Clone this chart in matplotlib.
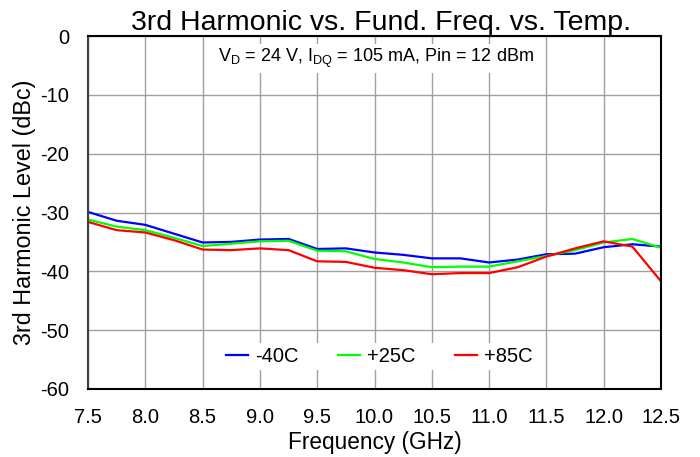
import numpy as np
import matplotlib.pyplot as plt

plt.rcParams['font.family'] = ['Liberation Sans', 'DejaVu Sans']
plt.rcParams['axes.unicode_minus'] = False

# Frequency points (GHz)
freq = [7.5, 7.75, 8.0, 8.25, 8.5, 8.75, 9.0, 9.25, 9.5, 9.75, 10.0,
        10.25, 10.5, 10.75, 11.0, 11.25, 11.5, 11.75, 12.0, 12.25, 12.5]

# 3rd harmonic level (dBc) per temperature
h3_m40 = [-29.9, -31.4, -32.1, -33.6, -35.1, -35.0, -34.6, -34.5, -36.2, -36.1, -36.8,
          -37.2, -37.8, -37.8, -38.5, -38.0, -37.1, -37.0, -35.9, -35.4, -35.8]
h3_p25 = [-31.2, -32.4, -33.0, -34.3, -35.7, -35.3, -34.9, -34.8, -36.5, -36.6, -37.9,
          -38.5, -39.3, -39.2, -39.2, -38.3, -37.4, -36.4, -35.1, -34.5, -36.0]
h3_p85 = [-31.6, -33.0, -33.4, -34.7, -36.3, -36.4, -36.1, -36.4, -38.3, -38.4, -39.4,
          -39.8, -40.5, -40.3, -40.3, -39.3, -37.5, -36.1, -34.9, -35.8, -41.7]

xticks = np.arange(7.5, 12.51, 0.5)
yticks = np.arange(-60, 1, 10)

fig = plt.figure(figsize=(7, 4.57), dpi=100)
ax = fig.add_axes([0.1257, 0.149, 0.8186, 0.772])

ax.plot(freq, h3_m40, color='#0000ff', lw=1.6, label='-40C')
ax.plot(freq, h3_p25, color='#00ff00', lw=1.6, label='+25C')
ax.plot(freq, h3_p85, color='#ff0000', lw=1.6, label='+85C')

ax.set_xlim(7.5, 12.5)
ax.set_ylim(-60, 0)
ax.set_xticks(xticks)
ax.set_xticklabels(['%.1f' % v for v in xticks])
ax.set_yticks(yticks)
ax.tick_params(length=0, labelsize=14.5, pad=13.5)
ax.grid(True, color='#a0a0a0', lw=1)
ax.set_axisbelow(True)
for s in ax.spines.values():
    s.set_color('black')
    s.set_linewidth(1.5)
ax.spines['left'].set_color('#404040')

ax.set_title('3rd Harmonic vs. Fund. Freq. vs. Temp.', fontsize=20.5, pad=3.5, x=0.511)
ax.set_xlabel('Frequency (GHz)', fontsize=16.3, labelpad=3)
ax.set_ylabel('3rd Harmonic Level (dBc)', fontsize=16.8, labelpad=3)

ax.text(0.503, 0.926, r'V$_\mathregular{D}$ = 24 V, I$_\mathregular{DQ}$ = 105 mA, Pin = 12 dBm',
        transform=ax.transAxes, ha='center', va='baseline', fontsize=13,
        bbox=dict(facecolor='white', edgecolor='none', pad=2))

leg = ax.legend(loc='center', bbox_to_anchor=(0.508, 0.091), ncol=3, frameon=True,
                fontsize=14.5, handlelength=1.1, columnspacing=1.95, handletextpad=0.35,
                borderpad=0.2)
leg.get_frame().set_edgecolor('none')
leg.get_frame().set_facecolor('white')
leg.get_frame().set_alpha(1)
leg.get_frame().set_boxstyle('square', pad=0)

fig.savefig('out.png', dpi=100)
